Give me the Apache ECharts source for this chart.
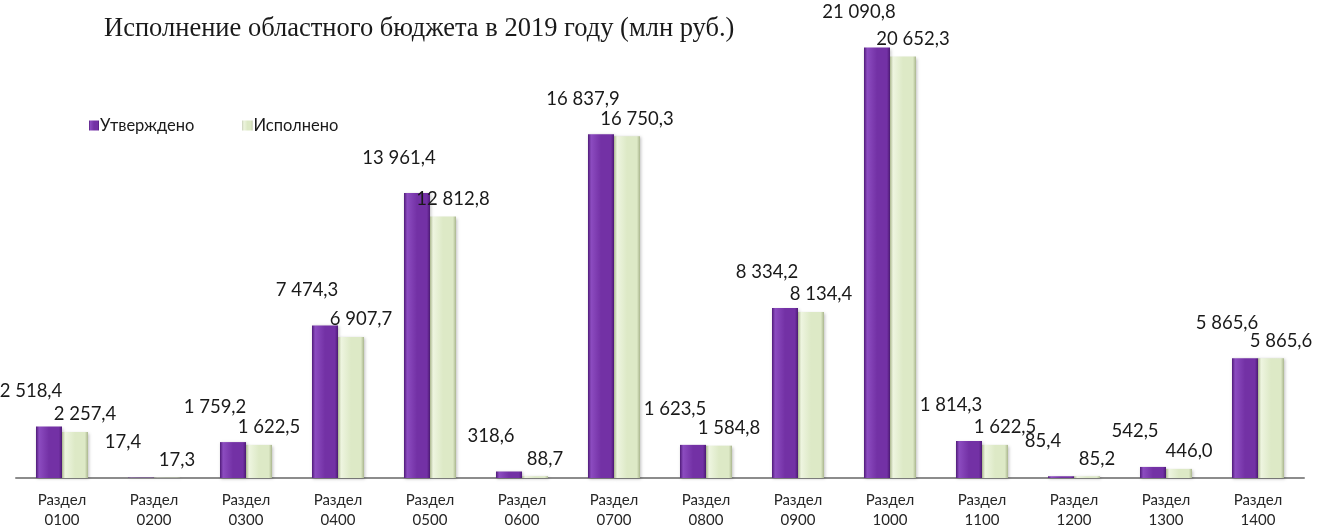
<!DOCTYPE html>
<html>
<head>
<meta charset="utf-8">
<script src="https://cdn.jsdelivr.net/npm/echarts@6/dist/echarts.min.js"></script>
<style>
  html, body { margin: 0; padding: 0; background: #fff; }
  #chart { width: 1319px; height: 531px; }
</style>
</head>
<body>
<div id="chart"></div>
<script>
const categories = ['0100', '0200', '0300', '0400', '0500', '0600', '0700',
  '0800', '0900', '1000', '1100', '1200', '1300', '1400'];
const approved = [2518.4, 17.4, 1759.2, 7474.3, 13961.4, 318.6, 16837.9,
  1623.5, 8334.2, 21090.8, 1814.3, 85.4, 542.5, 5865.6];
const executed = [2257.4, 17.3, 1622.5, 6907.7, 12812.8, 88.7, 16750.3,
  1584.8, 8134.4, 20652.3, 1622.5, 85.2, 446.0, 5865.6];

const labelFont = 'Lato, "Noto Sans", sans-serif';

// "21 090,8" style: space as thousands separator, comma decimal
const fmt = (v) => {
  const parts = v.toFixed(1).split('.');
  return parts[0].replace(/\B(?=(\d{3})+(?!\d))/g, ' ') + ',' + parts[1];
};

const bevel = (edge, mid, light) => new echarts.graphic.LinearGradient(0, 0, 1, 0, [
  { offset: 0, color: edge },
  { offset: 0.12, color: light },
  { offset: 0.5, color: mid },
  { offset: 0.88, color: mid },
  { offset: 1, color: edge }
]);

const chart = echarts.init(document.getElementById('chart'));

chart.setOption({
  animation: false,
  title: {
    text: 'Исполнение областного бюджета в 2019 году (млн руб.)',
    left: 99,
    top: 11,
    textStyle: {
      fontFamily: '"Liberation Serif", "DejaVu Serif", serif',
      fontSize: 26.5,
      fontWeight: 'normal',
      color: '#1a1a1a'
    }
  },
  legend: {
    left: 84,
    top: 112,
    itemWidth: 10,
    itemHeight: 10,
    itemGap: 48,
    icon: 'rect',
    textStyle: {
      fontFamily: labelFont,
      fontSize: 16.5,
      color: '#1a1a1a',
      padding: [0, 0, 0, -4]
    },
    data: ['Утверждено', 'Исполнено']
  },
  grid: {
    left: 16,
    right: 15,
    top: 29,
    bottom: 53,
    outerBoundsMode: 'none'
  },
  xAxis: {
    type: 'category',
    data: categories,
    axisLine: { lineStyle: { color: '#8c8c8c', width: 2 } },
    axisTick: { length: 6, lineStyle: { color: '#8c8c8c', width: 1.5 } },
    axisLabel: {
      formatter: (v) => 'Раздел\n' + v,
      fontFamily: labelFont,
      fontSize: 15,
      lineHeight: 20,
      color: '#262626',
      margin: 12
    }
  },
  yAxis: {
    type: 'value',
    min: 0,
    max: 22000,
    show: false,
    splitLine: { show: false }
  },
  series: [
    {
      name: 'Утверждено',
      type: 'bar',
      data: approved,
      barWidth: 26,
      barGap: '0%',
      itemStyle: {
        color: bevel('#4f1a78', '#7331a5', '#8c4cc0'),
        shadowColor: 'rgba(0,0,0,0.25)',
        shadowBlur: 3,
        shadowOffsetX: 1,
        shadowOffsetY: 1
      },
      label: {
        show: true,
        position: 'top',
        offset: [-18, -21],
        formatter: (p) => fmt(p.value),
        fontFamily: labelFont,
        fontSize: 18.5,
        color: '#1a1a1a'
      }
    },
    {
      name: 'Исполнено',
      type: 'bar',
      data: executed,
      barWidth: 26,
      itemStyle: {
        color: bevel('#aab68e', '#dde9c6', '#eef5e0'),
        shadowColor: 'rgba(0,0,0,0.25)',
        shadowBlur: 3,
        shadowOffsetX: 1,
        shadowOffsetY: 1
      },
      label: {
        show: true,
        position: 'top',
        offset: [10, -3],
        formatter: (p) => fmt(p.value),
        fontFamily: labelFont,
        fontSize: 18.5,
        color: '#1a1a1a'
      }
    }
  ]
});
</script>
</body>
</html>
